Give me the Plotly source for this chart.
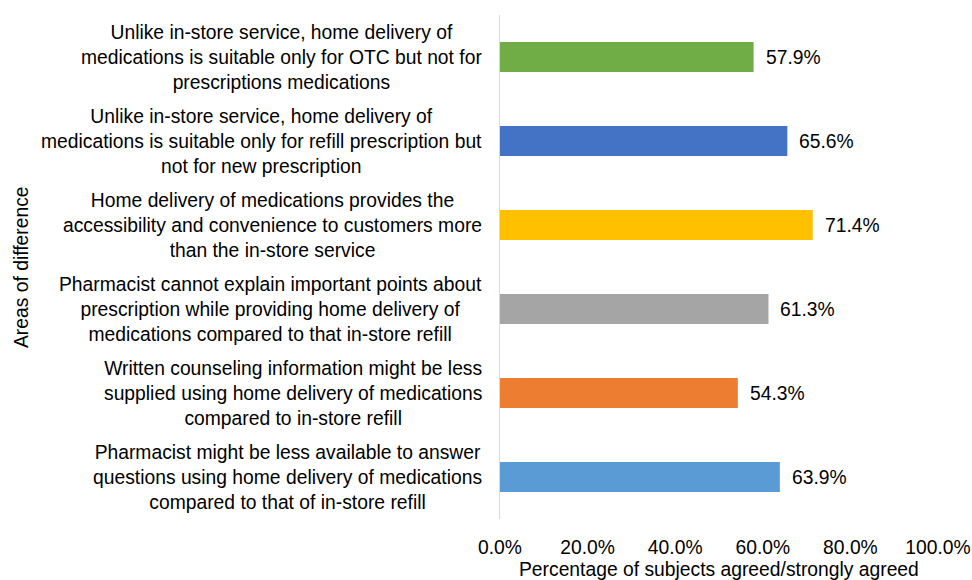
import plotly.graph_objects as go

categories = [
    "Unlike in-store service, home delivery of<br>medications is suitable only for OTC but not for<br>prescriptions medications",
    "Unlike in-store service, home delivery of<br>medications is suitable only for refill prescription but<br>not for new prescription",
    "Home delivery of medications provides the<br>accessibility and convenience to customers more<br>than the in-store service",
    "Pharmacist cannot explain important points about<br>prescription while providing home delivery of<br>medications compared to that in-store refill",
    "Written counseling information might be less<br>supplied using home delivery of medications<br>compared to in-store refill",
    "Pharmacist might be less available to answer<br>questions using home delivery of medications<br>compared to that of in-store refill",
]
values = [57.9, 65.6, 71.4, 61.3, 54.3, 63.9]
colors = ["#70AD47", "#4472C4", "#FFC000", "#A5A5A5", "#ED7D31", "#5B9BD5"]
x_ticks = [0, 20, 40, 60, 80, 100]
x_tick_labels = ["0.0%", "20.0%", "40.0%", "60.0%", "80.0%", "100.0%"]
x_title = "Percentage of subjects agreed/strongly agreed"
y_title = "Areas of difference"

FONT = "Liberation Sans, Arial, sans-serif"
FS = 19.3
TXT = dict(family=FONT, size=FS, color="#000000")
ids = list(range(len(categories)))

W, H = 972, 580
L, T = 500, 15
R = W - 938
B = H - 519

fig = go.Figure()
fig.add_trace(go.Bar(
    x=values, y=ids, orientation="h",
    marker=dict(color=colors, line=dict(width=0)),
    width=0.357, hoverinfo="skip",
))

annotations = []
for i, (c, v) in enumerate(zip(categories, values)):
    annotations.append(dict(
        x=0, y=i, xref="x", yref="y", text=c, showarrow=False,
        xanchor="right", yanchor="middle", align="center", xshift=-16,
        font=TXT,
    ))
    annotations.append(dict(
        x=v, y=i, xref="x", yref="y", text=f"{v:.1f}%", showarrow=False,
        xanchor="left", yanchor="middle", xshift=10,
        font=TXT,
    ))

pw = W - L - R
ph = H - T - B
# x-axis title (centered under plot area)
annotations.append(dict(
    x=0.5, y=(H - 569 - B) / ph, xref="paper", yref="paper", text=x_title,
    showarrow=False, xanchor="center", yanchor="middle", font=TXT,
))
# y-axis title (rotated, far left)
annotations.append(dict(
    x=(21 - L) / pw, y=0.5, xref="paper", yref="paper", text=y_title,
    showarrow=False, xanchor="center", yanchor="middle", textangle=-90, font=TXT,
))

fig.update_layout(
    width=W, height=H,
    margin=dict(l=L, r=R, t=T, b=B, autoexpand=False),
    paper_bgcolor="white", plot_bgcolor="white",
    showlegend=False,
    annotations=annotations,
    font=TXT,
    xaxis=dict(
        range=[0, 100], tickvals=x_ticks, ticktext=x_tick_labels,
        showgrid=False, zeroline=False, showline=False,
        ticks="", ticklabelstandoff=15, ticklabeloverflow="allow",
        tickfont=TXT, automargin=False,
        fixedrange=True,
    ),
    yaxis=dict(
        range=[len(categories) - 0.5, -0.5],
        showticklabels=False, showgrid=False, zeroline=False,
        showline=True, linecolor="#D9D9D9", linewidth=1.5,
        ticks="", automargin=False,
        fixedrange=True,
    ),
)

fig.write_html(
    "out.html",
    config={"displayModeBar": False, "staticPlot": True},
    post_script="document.body.style.margin='0';document.body.style.overflow='hidden';",
)
